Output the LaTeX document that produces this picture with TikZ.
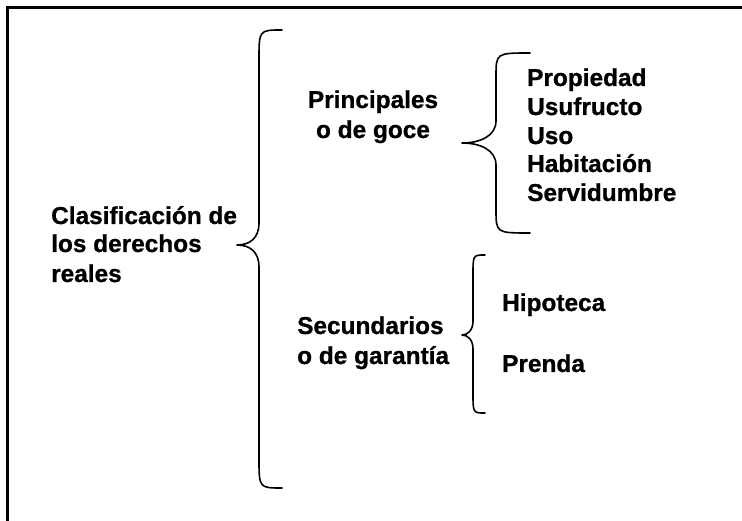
\documentclass[tikz,border=0pt]{standalone}
\usepackage{fontspec}
\setmainfont{Liberation Sans}[BoldFeatures={FakeBold=0.8}]
\begin{document}
\begin{tikzpicture}[x=1pt,y=-1pt,
  txt/.style={font=\fontsize{24.4}{28.7}\selectfont\bfseries, inner sep=0pt},
  bracepath/.style={line width=1.6pt, line join=round, line cap=round}]
\useasboundingbox (0,0) rectangle (742,521);
\clip (0,0) rectangle (742,521);
\draw[line width=2.2pt] (7.5,7.5) rectangle (800,600);
% main label
\node[txt, anchor=base west] (c1) at (51,224) {Clasificación de};
\node[txt, anchor=base west] (c2) at (51,252) {los derechos};
\node[txt, anchor=base west] (c3) at (51,282) {reales};
% big brace
\draw[bracepath] (282,30) .. controls (259,30) .. (259,60) -- (259,223)
  .. controls (259,238) and (250,245) .. (237,245)
  .. controls (250,245) and (259,252) .. (259,267) -- (259,458)
  .. controls (259,488) .. (282,488);
% categories
\node[txt, anchor=base] (p1) at (373,108) {Principales};
\node[txt, anchor=base] (p2) at (373,138) {o de goce};
\node[txt, anchor=base west] (s1) at (297,334) {Secundarios};
\node[txt, anchor=base west] (s2) at (297,364) {o de garantía};
% brace principales
\draw[bracepath] (530,53) .. controls (496,53) .. (496,77) -- (496,121)
  .. controls (496,136) and (480,143) .. (462,143)
  .. controls (480,143) and (496,150) .. (496,165) -- (496,209)
  .. controls (496,233) .. (530,233);
\node[txt, anchor=base west] (i1) at (527,86) {Propiedad};
\node[txt, anchor=base west] (i2) at (527,115) {Usufructo};
\node[txt, anchor=base west] (i3) at (527,144) {Uso};
\node[txt, anchor=base west] (i4) at (527,172) {Habitación};
\node[txt, anchor=base west] (i5) at (527,201) {Servidumbre};
% brace secundarios
\draw[bracepath] (485,255) .. controls (473,255) .. (473,275) -- (473,321)
  .. controls (473,330) and (468,335) .. (462,335)
  .. controls (468,335) and (473,340) .. (473,349) -- (473,393)
  .. controls (473,413) .. (485,413);
\node[txt, anchor=base west] (h1) at (502,311) {Hipoteca};
\node[txt, anchor=base west] (h2) at (502,372) {Prenda};
\end{tikzpicture}
\end{document}
